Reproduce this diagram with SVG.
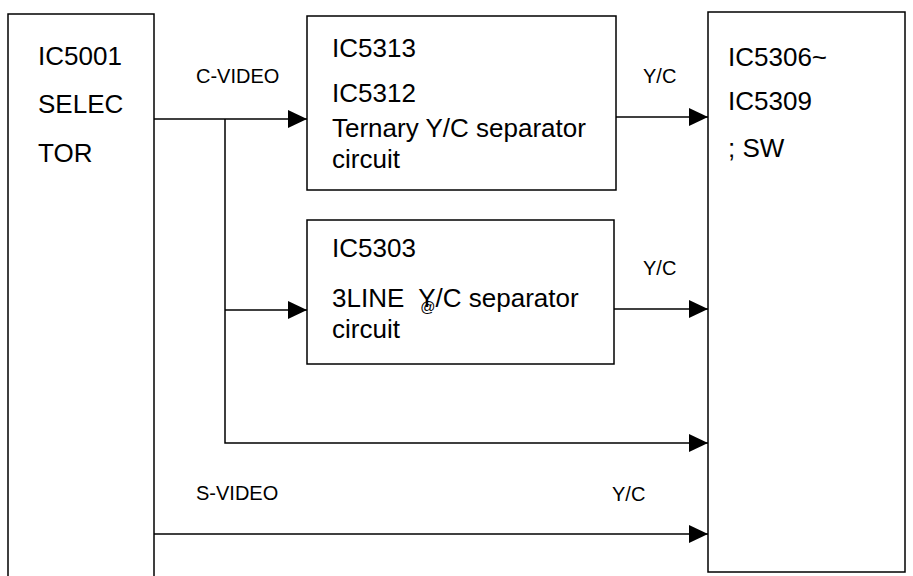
<svg xmlns="http://www.w3.org/2000/svg" width="913" height="576" viewBox="0 0 913 576">
<style>
.box{fill:#fff;stroke:#000;stroke-width:1.5}
.t{font-family:"Liberation Sans",Arial,sans-serif;font-size:26px;fill:#000;white-space:pre}
.s{font-family:"Liberation Sans",Arial,sans-serif;font-size:20px;fill:#000}
.c{fill:none;stroke:#000;stroke-width:1.5}
</style>
<defs>
<marker id="ah" markerUnits="userSpaceOnUse" markerWidth="20" markerHeight="18" refX="19" refY="9" orient="auto">
<path d="M0,0 L19,9 L0,18 Z" fill="#000"/>
</marker>
</defs>
<rect width="913" height="576" fill="#fff"/>
<g id="selector">
<rect class="box" x="8" y="14" width="146" height="570"/>
<text class="t" x="38" y="65">IC5001</text>
<text class="t" x="38" y="113">SELEC</text>
<text class="t" x="38" y="162">TOR</text>
</g>
<g id="ternary">
<rect class="box" x="307" y="16" width="309" height="174"/>
<text class="t" x="332" y="57">IC5313</text>
<text class="t" x="332" y="102">IC5312</text>
<text class="t" x="332" y="137">Ternary Y/C separator</text>
<text class="t" x="332" y="168">circuit</text>
</g>
<g id="threeline">
<rect class="box" x="307" y="220" width="307" height="144"/>
<text class="t" x="332" y="257">IC5303</text>
<text class="t" x="332" y="307" xml:space="preserve">3LINE  Y/C separator</text>
<text x="420" y="312" font-family="Liberation Sans,Arial,sans-serif" font-size="15" font-style="italic">@</text>
<text class="t" x="332" y="338">circuit</text>
</g>
<g id="sw">
<rect class="box" x="708" y="12" width="197" height="560"/>
<text class="t" x="728" y="66">IC5306~</text>
<text class="t" x="728" y="110">IC5309</text>
<text class="t" x="728" y="157">; SW</text>
</g>
<g id="connectors">
<path class="c" d="M154,119 H307" marker-end="url(#ah)"/>
<path class="c" d="M225,119 V443 H708" marker-end="url(#ah)"/>
<path class="c" d="M225,310 H307" marker-end="url(#ah)"/>
<path class="c" d="M616,117 H708" marker-end="url(#ah)"/>
<path class="c" d="M614,309 H708" marker-end="url(#ah)"/>
<path class="c" d="M154,534 H708" marker-end="url(#ah)"/>
<text class="s" x="196" y="83">C-VIDEO</text>
<text class="s" x="643" y="83">Y/C</text>
<text class="s" x="643" y="275">Y/C</text>
<text class="s" x="196" y="500">S-VIDEO</text>
<text class="s" x="612" y="501">Y/C</text>
</g>
</svg>
